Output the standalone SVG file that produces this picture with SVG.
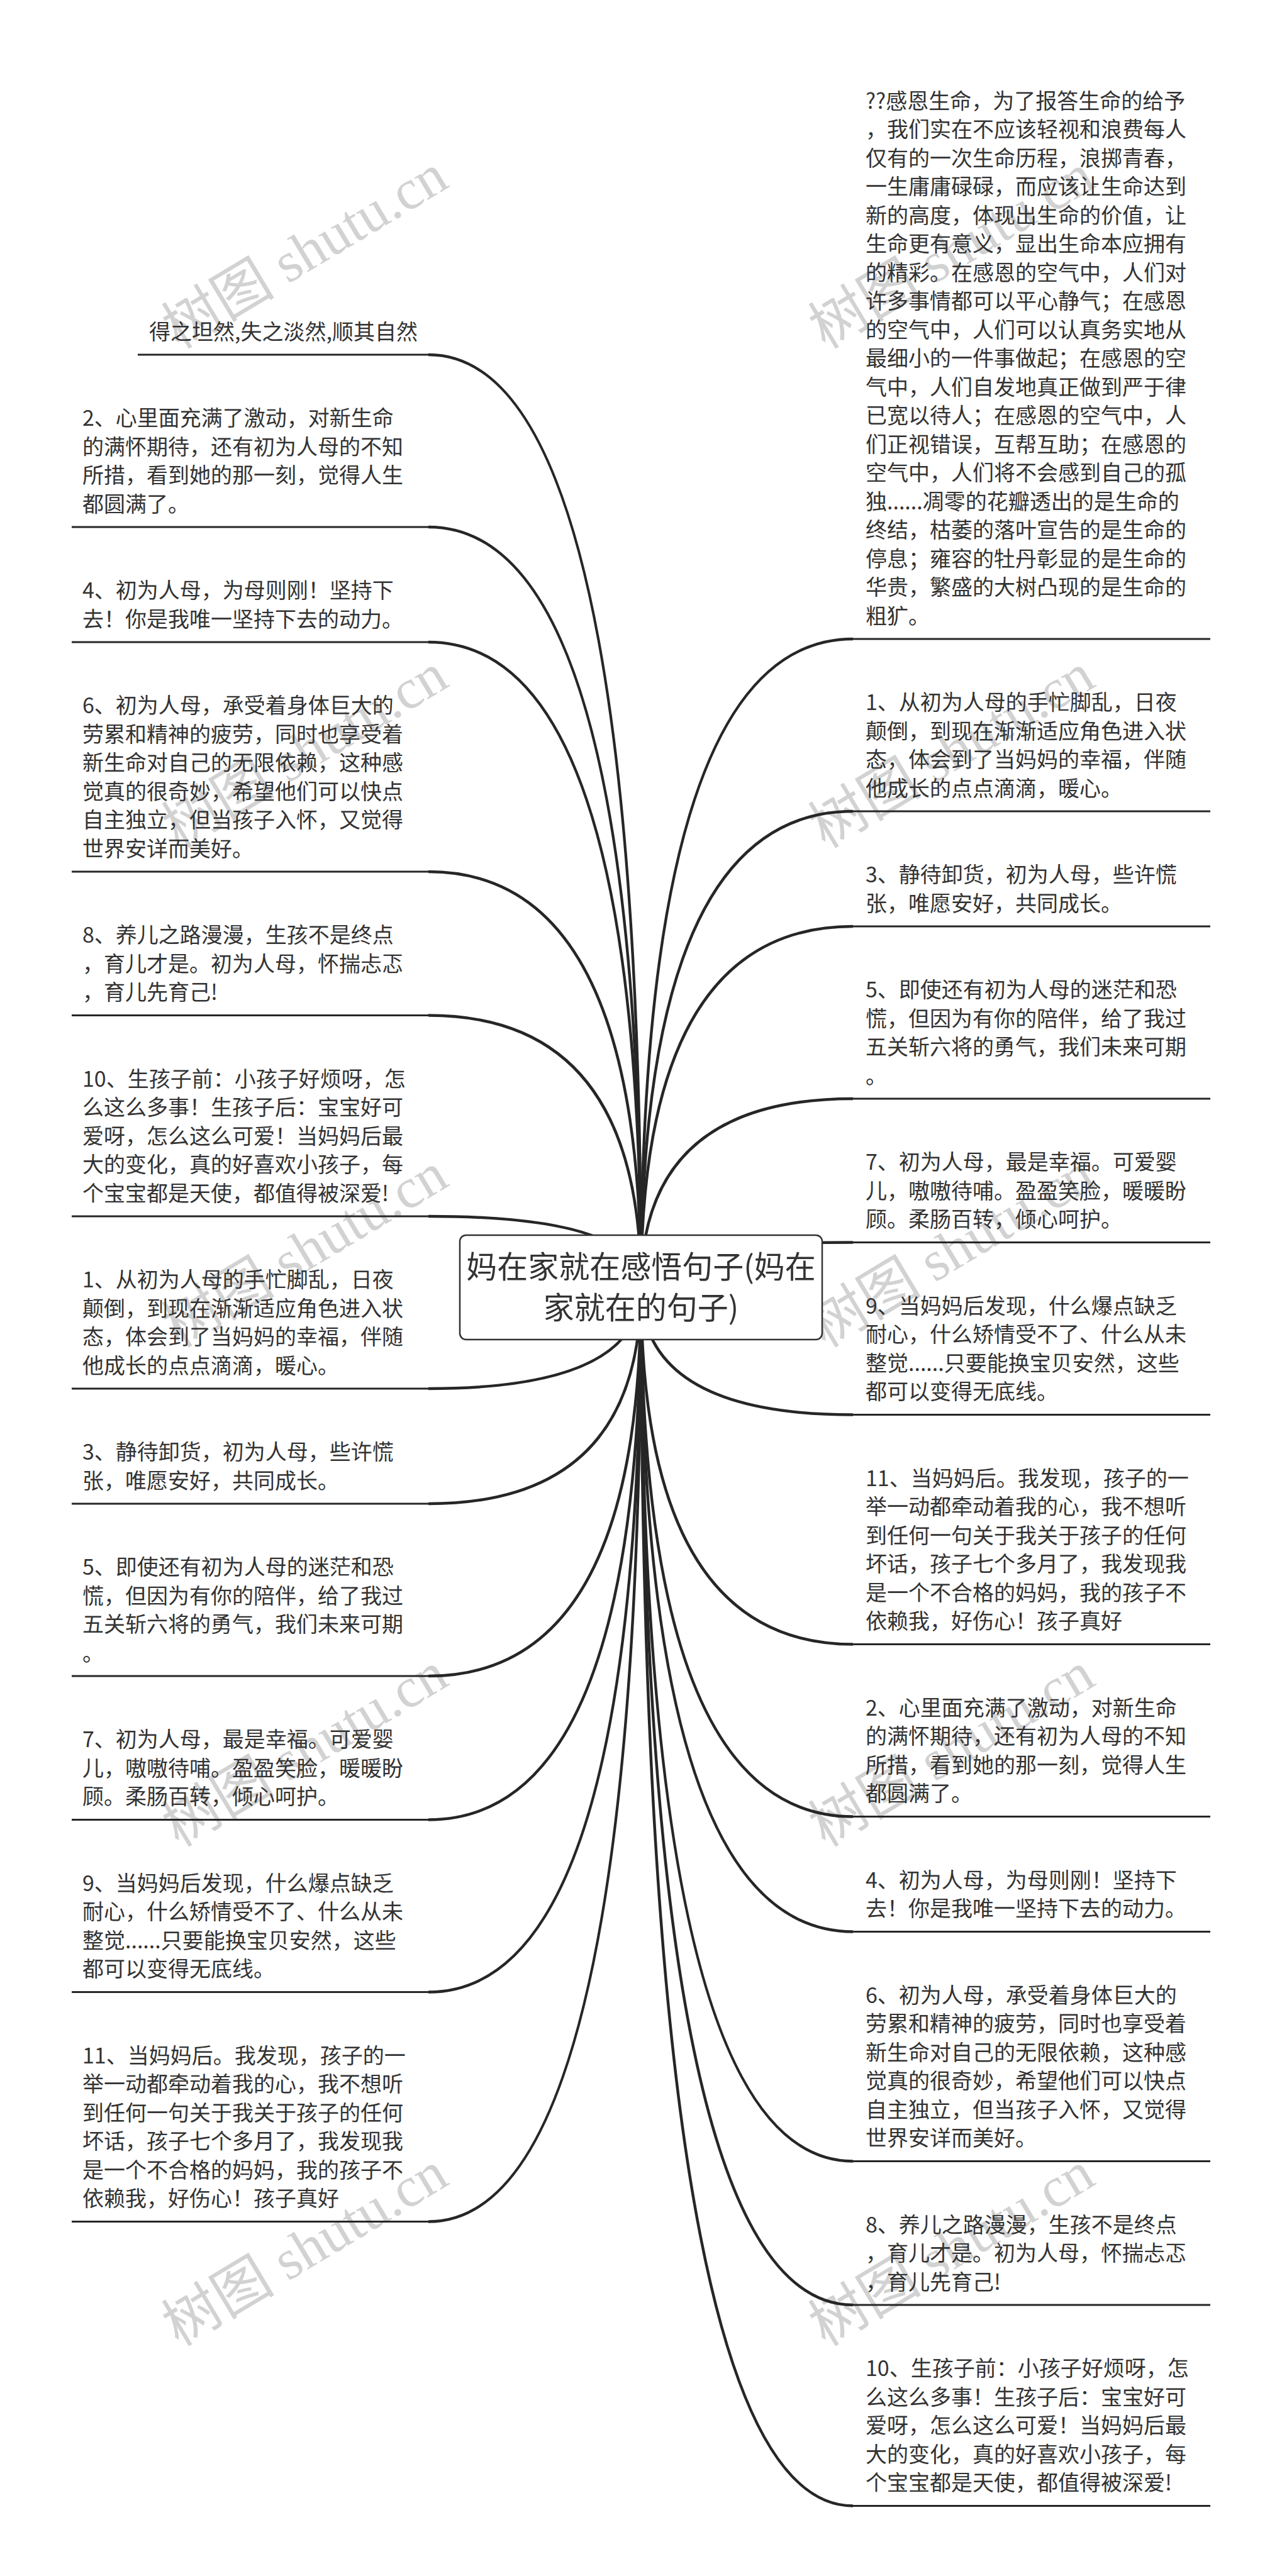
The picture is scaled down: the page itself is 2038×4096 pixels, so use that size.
<svg xmlns="http://www.w3.org/2000/svg" width="2038" height="4096" viewBox="0 0 2038 4096">
<style>
.t{font-family:"Noto Sans CJK SC","Noto Sans",sans-serif;font-size:34px;fill:#333}
.rt{font-family:"Noto Sans CJK SC","Noto Sans",sans-serif;font-size:49px;fill:#333;text-anchor:middle}
.ul{stroke:#262626;stroke-width:3;fill:none}
.cn{stroke:#262626;stroke-width:4.5;fill:none}
.wm{font-family:"Liberation Serif","Noto Sans CJK SC",serif;font-size:90px;fill:#d2d2d2}
</style>
<rect x="0" y="0" width="2038" height="4096" fill="#fff"/>
<g id="watermarks">
<text class="wm" x="284" y="556" transform="rotate(-31 284 556)">树图 shutu.cn</text>
<text class="wm" x="284" y="1350" transform="rotate(-31 284 1350)">树图 shutu.cn</text>
<text class="wm" x="284" y="2144" transform="rotate(-31 284 2144)">树图 shutu.cn</text>
<text class="wm" x="284" y="2938" transform="rotate(-31 284 2938)">树图 shutu.cn</text>
<text class="wm" x="284" y="3732" transform="rotate(-31 284 3732)">树图 shutu.cn</text>
<text class="wm" x="1312" y="556" transform="rotate(-31 1312 556)">树图 shutu.cn</text>
<text class="wm" x="1312" y="1350" transform="rotate(-31 1312 1350)">树图 shutu.cn</text>
<text class="wm" x="1312" y="2144" transform="rotate(-31 1312 2144)">树图 shutu.cn</text>
<text class="wm" x="1312" y="2938" transform="rotate(-31 1312 2938)">树图 shutu.cn</text>
<text class="wm" x="1312" y="3732" transform="rotate(-31 1312 3732)">树图 shutu.cn</text>
</g>
<g id="connectors">
<path class="cn" d="M1019 2047 Q1019 564 681 564"/>
<path class="cn" d="M1019 2047 Q1019 838 681 838"/>
<path class="cn" d="M1019 2047 Q1019 1021 681 1021"/>
<path class="cn" d="M1019 2047 Q1019 1386 681 1386"/>
<path class="cn" d="M1019 2047 Q1019 1614.5 681 1614.5"/>
<path class="cn" d="M1019 2047 Q1019 1934 681 1934"/>
<path class="cn" d="M1019 2047 Q1019 2208 681 2208"/>
<path class="cn" d="M1019 2047 Q1019 2391 681 2391"/>
<path class="cn" d="M1019 2047 Q1019 2665 681 2665"/>
<path class="cn" d="M1019 2047 Q1019 2893.5 681 2893.5"/>
<path class="cn" d="M1019 2047 Q1019 3167.5 681 3167.5"/>
<path class="cn" d="M1019 2047 Q1019 3532.5 681 3532.5"/>
<path class="cn" d="M1019 2047 Q1019 1016 1356 1016"/>
<path class="cn" d="M1019 2047 Q1019 1290 1356 1290"/>
<path class="cn" d="M1019 2047 Q1019 1473 1356 1473"/>
<path class="cn" d="M1019 2047 Q1019 1747 1356 1747"/>
<path class="cn" d="M1019 2047 Q1019 1975.5 1356 1975.5"/>
<path class="cn" d="M1019 2047 Q1019 2249.5 1356 2249.5"/>
<path class="cn" d="M1019 2047 Q1019 2614.5 1356 2614.5"/>
<path class="cn" d="M1019 2047 Q1019 2888.5 1356 2888.5"/>
<path class="cn" d="M1019 2047 Q1019 3071.5 1356 3071.5"/>
<path class="cn" d="M1019 2047 Q1019 3436.5 1356 3436.5"/>
<path class="cn" d="M1019 2047 Q1019 3665 1356 3665"/>
<path class="cn" d="M1019 2047 Q1019 3984.5 1356 3984.5"/>
</g>
<g id="root">
<rect x="731" y="1964" width="576" height="166" rx="10" fill="#fff" stroke="#333" stroke-width="2.5"/>
<text class="rt" x="1019" y="2032">妈在家就在感悟句子(妈在</text>
<text class="rt" x="1019" y="2097">家就在的句子)</text>
</g>
<g id="left-0">
<text class="t"><tspan x="237" y="539.5">得之坦然,失之淡然,顺其自然</tspan></text>
<line class="ul" x1="219" y1="564" x2="681" y2="564"/>
</g>
<g id="left-1">
<text class="t"><tspan x="131" y="677">2、心里面充满了激动，对新生命</tspan><tspan x="131" y="722.5">的满怀期待，还有初为人母的不知</tspan><tspan x="131" y="768">所措，看到她的那一刻，觉得人生</tspan><tspan x="131" y="813.5">都圆满了。</tspan></text>
<line class="ul" x1="114" y1="838" x2="681" y2="838"/>
</g>
<g id="left-2">
<text class="t"><tspan x="131" y="951">4、初为人母，为母则刚！坚持下</tspan><tspan x="131" y="996.5">去！你是我唯一坚持下去的动力。</tspan></text>
<line class="ul" x1="114" y1="1021" x2="681" y2="1021"/>
</g>
<g id="left-3">
<text class="t"><tspan x="131" y="1134">6、初为人母，承受着身体巨大的</tspan><tspan x="131" y="1179.5">劳累和精神的疲劳，同时也享受着</tspan><tspan x="131" y="1225">新生命对自己的无限依赖，这种感</tspan><tspan x="131" y="1270.5">觉真的很奇妙，希望他们可以快点</tspan><tspan x="131" y="1316">自主独立，但当孩子入怀，又觉得</tspan><tspan x="131" y="1361.5">世界安详而美好。</tspan></text>
<line class="ul" x1="114" y1="1386" x2="681" y2="1386"/>
</g>
<g id="left-4">
<text class="t"><tspan x="131" y="1499">8、养儿之路漫漫，生孩不是终点</tspan><tspan x="131" y="1544.5">，育儿才是。初为人母，怀揣忐忑</tspan><tspan x="131" y="1590">，育儿先育己!</tspan></text>
<line class="ul" x1="114" y1="1614.5" x2="681" y2="1614.5"/>
</g>
<g id="left-5">
<text class="t"><tspan x="131" y="1727.5">10、生孩子前：小孩子好烦呀，怎</tspan><tspan x="131" y="1773">么这么多事！生孩子后：宝宝好可</tspan><tspan x="131" y="1818.5">爱呀，怎么这么可爱！当妈妈后最</tspan><tspan x="131" y="1864">大的变化，真的好喜欢小孩子，每</tspan><tspan x="131" y="1909.5">个宝宝都是天使，都值得被深爱!</tspan></text>
<line class="ul" x1="114" y1="1934" x2="681" y2="1934"/>
</g>
<g id="left-6">
<text class="t"><tspan x="131" y="2047">1、从初为人母的手忙脚乱，日夜</tspan><tspan x="131" y="2092.5">颠倒，到现在渐渐适应角色进入状</tspan><tspan x="131" y="2138">态，体会到了当妈妈的幸福，伴随</tspan><tspan x="131" y="2183.5">他成长的点点滴滴，暖心。</tspan></text>
<line class="ul" x1="114" y1="2208" x2="681" y2="2208"/>
</g>
<g id="left-7">
<text class="t"><tspan x="131" y="2321">3、静待卸货，初为人母，些许慌</tspan><tspan x="131" y="2366.5">张，唯愿安好，共同成长。</tspan></text>
<line class="ul" x1="114" y1="2391" x2="681" y2="2391"/>
</g>
<g id="left-8">
<text class="t"><tspan x="131" y="2504">5、即使还有初为人母的迷茫和恐</tspan><tspan x="131" y="2549.5">慌，但因为有你的陪伴，给了我过</tspan><tspan x="131" y="2595">五关斩六将的勇气，我们未来可期</tspan><tspan x="131" y="2640.5">。</tspan></text>
<line class="ul" x1="114" y1="2665" x2="681" y2="2665"/>
</g>
<g id="left-9">
<text class="t"><tspan x="131" y="2778">7、初为人母，最是幸福。可爱婴</tspan><tspan x="131" y="2823.5">儿，嗷嗷待哺。盈盈笑脸，暖暖盼</tspan><tspan x="131" y="2869">顾。柔肠百转，倾心呵护。</tspan></text>
<line class="ul" x1="114" y1="2893.5" x2="681" y2="2893.5"/>
</g>
<g id="left-10">
<text class="t"><tspan x="131" y="3006.5">9、当妈妈后发现，什么爆点缺乏</tspan><tspan x="131" y="3052">耐心，什么矫情受不了、什么从未</tspan><tspan x="131" y="3097.5">整觉......只要能换宝贝安然，这些</tspan><tspan x="131" y="3143">都可以变得无底线。</tspan></text>
<line class="ul" x1="114" y1="3167.5" x2="681" y2="3167.5"/>
</g>
<g id="left-11">
<text class="t"><tspan x="131" y="3280.5">11、当妈妈后。我发现，孩子的一</tspan><tspan x="131" y="3326">举一动都牵动着我的心，我不想听</tspan><tspan x="131" y="3371.5">到任何一句关于我关于孩子的任何</tspan><tspan x="131" y="3417">坏话，孩子七个多月了，我发现我</tspan><tspan x="131" y="3462.5">是一个不合格的妈妈，我的孩子不</tspan><tspan x="131" y="3508">依赖我，好伤心！孩子真好</tspan></text>
<line class="ul" x1="114" y1="3532.5" x2="681" y2="3532.5"/>
</g>
<g id="right-0">
<text class="t"><tspan x="1376" y="172.5">??感恩生命，为了报答生命的给予</tspan><tspan x="1376" y="218">，我们实在不应该轻视和浪费每人</tspan><tspan x="1376" y="263.5">仅有的一次生命历程，浪掷青春，</tspan><tspan x="1376" y="309">一生庸庸碌碌，而应该让生命达到</tspan><tspan x="1376" y="354.5">新的高度，体现出生命的价值，让</tspan><tspan x="1376" y="400">生命更有意义，显出生命本应拥有</tspan><tspan x="1376" y="445.5">的精彩。在感恩的空气中，人们对</tspan><tspan x="1376" y="491">许多事情都可以平心静气；在感恩</tspan><tspan x="1376" y="536.5">的空气中，人们可以认真务实地从</tspan><tspan x="1376" y="582">最细小的一件事做起；在感恩的空</tspan><tspan x="1376" y="627.5">气中，人们自发地真正做到严于律</tspan><tspan x="1376" y="673">已宽以待人；在感恩的空气中，人</tspan><tspan x="1376" y="718.5">们正视错误，互帮互助；在感恩的</tspan><tspan x="1376" y="764">空气中，人们将不会感到自己的孤</tspan><tspan x="1376" y="809.5">独......凋零的花瓣透出的是生命的</tspan><tspan x="1376" y="855">终结，枯萎的落叶宣告的是生命的</tspan><tspan x="1376" y="900.5">停息；雍容的牡丹彰显的是生命的</tspan><tspan x="1376" y="946">华贵，繁盛的大树凸现的是生命的</tspan><tspan x="1376" y="991.5">粗犷。</tspan></text>
<line class="ul" x1="1356" y1="1016" x2="1924" y2="1016"/>
</g>
<g id="right-1">
<text class="t"><tspan x="1376" y="1129">1、从初为人母的手忙脚乱，日夜</tspan><tspan x="1376" y="1174.5">颠倒，到现在渐渐适应角色进入状</tspan><tspan x="1376" y="1220">态，体会到了当妈妈的幸福，伴随</tspan><tspan x="1376" y="1265.5">他成长的点点滴滴，暖心。</tspan></text>
<line class="ul" x1="1356" y1="1290" x2="1924" y2="1290"/>
</g>
<g id="right-2">
<text class="t"><tspan x="1376" y="1403">3、静待卸货，初为人母，些许慌</tspan><tspan x="1376" y="1448.5">张，唯愿安好，共同成长。</tspan></text>
<line class="ul" x1="1356" y1="1473" x2="1924" y2="1473"/>
</g>
<g id="right-3">
<text class="t"><tspan x="1376" y="1586">5、即使还有初为人母的迷茫和恐</tspan><tspan x="1376" y="1631.5">慌，但因为有你的陪伴，给了我过</tspan><tspan x="1376" y="1677">五关斩六将的勇气，我们未来可期</tspan><tspan x="1376" y="1722.5">。</tspan></text>
<line class="ul" x1="1356" y1="1747" x2="1924" y2="1747"/>
</g>
<g id="right-4">
<text class="t"><tspan x="1376" y="1860">7、初为人母，最是幸福。可爱婴</tspan><tspan x="1376" y="1905.5">儿，嗷嗷待哺。盈盈笑脸，暖暖盼</tspan><tspan x="1376" y="1951">顾。柔肠百转，倾心呵护。</tspan></text>
<line class="ul" x1="1356" y1="1975.5" x2="1924" y2="1975.5"/>
</g>
<g id="right-5">
<text class="t"><tspan x="1376" y="2088.5">9、当妈妈后发现，什么爆点缺乏</tspan><tspan x="1376" y="2134">耐心，什么矫情受不了、什么从未</tspan><tspan x="1376" y="2179.5">整觉......只要能换宝贝安然，这些</tspan><tspan x="1376" y="2225">都可以变得无底线。</tspan></text>
<line class="ul" x1="1356" y1="2249.5" x2="1924" y2="2249.5"/>
</g>
<g id="right-6">
<text class="t"><tspan x="1376" y="2362.5">11、当妈妈后。我发现，孩子的一</tspan><tspan x="1376" y="2408">举一动都牵动着我的心，我不想听</tspan><tspan x="1376" y="2453.5">到任何一句关于我关于孩子的任何</tspan><tspan x="1376" y="2499">坏话，孩子七个多月了，我发现我</tspan><tspan x="1376" y="2544.5">是一个不合格的妈妈，我的孩子不</tspan><tspan x="1376" y="2590">依赖我，好伤心！孩子真好</tspan></text>
<line class="ul" x1="1356" y1="2614.5" x2="1924" y2="2614.5"/>
</g>
<g id="right-7">
<text class="t"><tspan x="1376" y="2727.5">2、心里面充满了激动，对新生命</tspan><tspan x="1376" y="2773">的满怀期待，还有初为人母的不知</tspan><tspan x="1376" y="2818.5">所措，看到她的那一刻，觉得人生</tspan><tspan x="1376" y="2864">都圆满了。</tspan></text>
<line class="ul" x1="1356" y1="2888.5" x2="1924" y2="2888.5"/>
</g>
<g id="right-8">
<text class="t"><tspan x="1376" y="3001.5">4、初为人母，为母则刚！坚持下</tspan><tspan x="1376" y="3047">去！你是我唯一坚持下去的动力。</tspan></text>
<line class="ul" x1="1356" y1="3071.5" x2="1924" y2="3071.5"/>
</g>
<g id="right-9">
<text class="t"><tspan x="1376" y="3184.5">6、初为人母，承受着身体巨大的</tspan><tspan x="1376" y="3230">劳累和精神的疲劳，同时也享受着</tspan><tspan x="1376" y="3275.5">新生命对自己的无限依赖，这种感</tspan><tspan x="1376" y="3321">觉真的很奇妙，希望他们可以快点</tspan><tspan x="1376" y="3366.5">自主独立，但当孩子入怀，又觉得</tspan><tspan x="1376" y="3412">世界安详而美好。</tspan></text>
<line class="ul" x1="1356" y1="3436.5" x2="1924" y2="3436.5"/>
</g>
<g id="right-10">
<text class="t"><tspan x="1376" y="3549.5">8、养儿之路漫漫，生孩不是终点</tspan><tspan x="1376" y="3595">，育儿才是。初为人母，怀揣忐忑</tspan><tspan x="1376" y="3640.5">，育儿先育己!</tspan></text>
<line class="ul" x1="1356" y1="3665" x2="1924" y2="3665"/>
</g>
<g id="right-11">
<text class="t"><tspan x="1376" y="3778">10、生孩子前：小孩子好烦呀，怎</tspan><tspan x="1376" y="3823.5">么这么多事！生孩子后：宝宝好可</tspan><tspan x="1376" y="3869">爱呀，怎么这么可爱！当妈妈后最</tspan><tspan x="1376" y="3914.5">大的变化，真的好喜欢小孩子，每</tspan><tspan x="1376" y="3960">个宝宝都是天使，都值得被深爱!</tspan></text>
<line class="ul" x1="1356" y1="3984.5" x2="1924" y2="3984.5"/>
</g>
</svg>
